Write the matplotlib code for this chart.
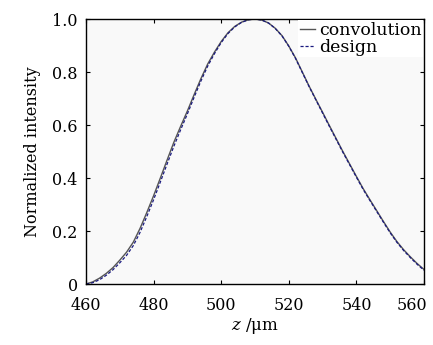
import matplotlib.pyplot as plt
import matplotlib.transforms as mtransforms

z = [460, 462, 464, 466, 468, 470, 472, 474, 476, 478, 480, 482, 484, 486,
     488, 490, 492, 494, 496, 498, 500, 502, 504, 506, 508, 510, 512, 514,
     516, 518, 520, 522, 524, 526, 528, 530, 532, 534, 536, 538, 540, 542,
     544, 546, 548, 550, 552, 554, 556, 558, 560]
convolution = [0.0, 0.008, 0.022, 0.04, 0.062, 0.09, 0.12, 0.158, 0.21, 0.27,
               0.333, 0.4, 0.468, 0.535, 0.595, 0.653, 0.715, 0.775, 0.83,
               0.875, 0.915, 0.948, 0.972, 0.988, 0.997, 1.0, 0.996, 0.985,
               0.965, 0.937, 0.898, 0.853, 0.8, 0.747, 0.697, 0.648, 0.598,
               0.549, 0.5, 0.453, 0.406, 0.36, 0.318, 0.277, 0.236, 0.196,
               0.16, 0.129, 0.102, 0.077, 0.055]
design = [0.0, 0.005, 0.016, 0.033, 0.054, 0.08, 0.108, 0.145, 0.195, 0.255,
          0.318, 0.385, 0.453, 0.52, 0.582, 0.642, 0.705, 0.766, 0.822,
          0.869, 0.911, 0.945, 0.97, 0.987, 0.997, 1.0, 0.996, 0.985,
          0.964, 0.936, 0.897, 0.851, 0.798, 0.745, 0.695, 0.645, 0.595,
          0.546, 0.497, 0.45, 0.403, 0.357, 0.315, 0.274, 0.233, 0.193,
          0.157, 0.126, 0.099, 0.074, 0.052]

xticks = [460, 480, 500, 520, 540, 560]
yticks = [0, 0.2, 0.4, 0.6, 0.8, 1.0]
ytick_labels = ['0', '0.2', '0.4', '0.6', '0.8', '1.0']

plt.rcParams['font.family'] = ['DejaVu Serif']
plt.rcParams['mathtext.fontset'] = 'dejavuserif'

fig = plt.figure(figsize=(4.33, 3.45), dpi=100)
ax = fig.add_axes([0.1986, 0.1768, 0.7806, 0.7681])
ax.set_facecolor('#f9f9f9')

ax.plot(z, convolution, color='#555555', lw=1.0, label='convolution')
ax.plot(z, design, color='#1a1a80', lw=0.9, ls=(0, (2.5, 1.5)), label='design')

ax.set_xlim(460, 560)
ax.set_ylim(0, 1.0)
ax.set_xticks(xticks)
ax.set_yticks(yticks)
ax.set_yticklabels(ytick_labels)
ax.tick_params(direction='in', top=True, right=True, labelsize=11.5,
               length=3, width=0.8)
ax.tick_params(axis='x', pad=9)
ax.tick_params(axis='y', pad=6)
for s in ax.spines.values():
    s.set_linewidth(1.0)

# pull the last x label in so it stays inside the figure
last = ax.get_xticklabels()[-1]
last.set_transform(last.get_transform() +
                   mtransforms.ScaledTranslation(-9 / 72, 0, fig.dpi_scale_trans))

ax.set_xlabel(r'$z$ /μm', fontsize=12, labelpad=2)
ax.set_ylabel('Normalized intensity', fontsize=11.5, labelpad=8)

leg = ax.legend(loc='upper right', fontsize=12.5, handlelength=0.9,
                handletextpad=0.2, borderpad=0.1, labelspacing=0.0,
                borderaxespad=0.05, fancybox=False, framealpha=1)
leg.get_frame().set_facecolor('white')
leg.get_frame().set_edgecolor('none')

fig.savefig('out.png', dpi=100)
